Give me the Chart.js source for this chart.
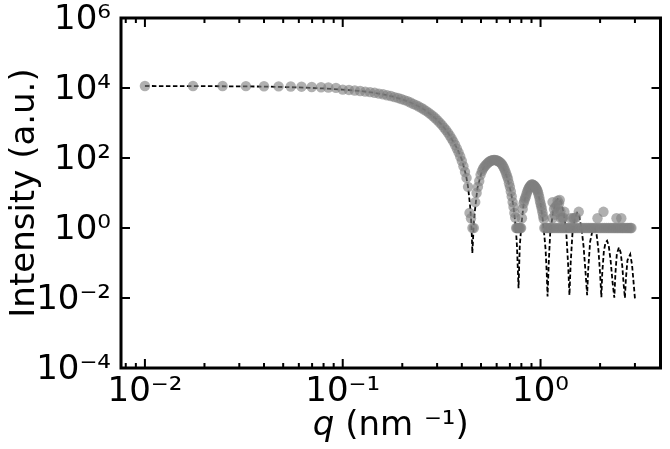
<!DOCTYPE html>
<html>
<head>
<meta charset="utf-8">
<script src="https://cdn.jsdelivr.net/npm/chart.js@4/dist/chart.umd.min.js"></script>
<style>html,body{margin:0;padding:0;background:#fff}canvas{display:block;filter:blur(0.5px)}</style>
</head>
<body>
<canvas id="c" width="670" height="449"></canvas>
<script>
const yTitle = 'Intensity (a.u.)';
const xTitleItalic = 'q';
const xTitleRest = ' (nm \u207B\u00B9)';
const xMajor = [0.01, 0.1, 1];
const xMajorLabels = ['10\u207B\u00B2', '10\u207B\u00B9', '10\u2070'];
const xMinor = [0.008,0.009,0.02,0.03,0.04,0.05,0.06,0.07,0.08,0.09,0.2,0.3,0.4,0.5,0.6,0.7,0.8,0.9,2,3];
const yMajor = [1e-4,1e-2,1,1e2,1e4,1e6];
const yMajorLabels = ['10\u207B\u2074','10\u207B\u00B2','10\u2070','10\u00B2','10\u2074','10\u2076'];

const modelQ = [.01,.02,.04,.06,.08,.1,.12,.14,.16,.18,.2,.22,.24,.26,.28,.3,.32,.34,.36,.38,.4,.42,.43,.44,.445,.45,.452,.456,.46,.47,.48,.5,.52,.54,.56,.586,.61,.63,.65,.67,.69,.71,.73,.75,.76,.774,.785,.8,.82,.85,.88,.908,.94,.97,1,1.03,1.06,1.075,1.085,1.1,1.12,1.16,1.2,1.23,1.27,1.31,1.35,1.38,1.4,1.42,1.45,1.49,1.53,1.57,1.61,1.65,1.69,1.72,1.74,1.78,1.83,1.88,1.92,1.96,2,2.03,2.05,2.09,2.13,2.17,2.21,2.26,2.31,2.36,2.39,2.43,2.49,2.54,2.59,2.63,2.67,2.7,2.75,2.84,2.9,2.95,3];
const modelI = [11400,11300,11000,10400,9700,9000,8300,7500,6600,5650,4750,3850,3050,2350,1730,1230,830,530,310,180,90,32,15,4.5,2,.5,.19,.5,1.6,5,14,34,58,76,84,87,80,67,50,33,19,10,4,1,.3,.019,.3,1.2,4.5,10,16,19,16,10,5,1.5,.25,.05,.011,.1,.8,3,6,7,5.5,2.6,.7,.08,.012,.1,.7,1.9,2.7,2.1,1,.3,.05,.012,.06,.4,.85,.95,.65,.25,.05,.0105,.05,.22,.38,.43,.32,.12,.03,.0102,.05,.18,.28,.2,.08,.025,.01,.035,.12,.177,.09,.03,.0097];

const pointQ = [.01,.0175,.0247,.0324,.04,.0474,.0546,.0619,.0697,.0777,.0846,.0924,.1,.1075,.115,.1225,.13,.1375,.145,.1525,.16,.1675,.175,.1825,.19,.1975,.205,.2125,.22,.2275,.235,.2425,.25,.2575,.265,.2725,.28,.2875,.295,.3025,.31,.3175,.325,.3325,.34,.3475,.355,.3625,.37,.3775,.385,.3925,.4,.4075,.415,.4225,.43,.4375,.445,.4525,.46,.4675,.475,.4825,.49,.4975,.505,.5125,.52,.5275,.535,.5425,.55,.5575,.565,.5725,.58,.5875,.595,.6025,.61,.6175,.625,.6325,.64,.6475,.655,.6625,.67,.6775,.685,.6925,.7,.7075,.715,.7225,.73,.7375,.745,.7525,.76,.7675,.775,.7825,.79,.7975,.805,.8125,.82,.8275,.835,.8425,.85,.8575,.865,.8725,.88,.8875,.895,.9025,.91,.9175,.925,.9325,.94,.9475,.955,.9625,.97,.9775,.985,.9925,1,1.0075,1.015,1.0225,1.03,1.0375,1.045,1.06,1.08,1.1,1.12,1.14,1.17,1.2,1.23,1.26,1.29,1.32,1.35,1.38,1.41,1.44,1.47,1.5,1.54,1.58,1.62,1.66,1.7,1.74,1.78,1.82,1.86,1.9,1.95,2,2.05,2.1,2.15,2.2,2.25,2.3,2.35,2.4,2.45,2.5,2.55,2.6,2.65,2.7,2.75,2.8,2.85,2.88,1.15,1.25,1.15,1.22,1.32,1.29,1.19,1.22,1.48,1.56,1.42,1.94,2.08,2.42,2.56,1.17,1.21,1.26,1.24,1.3,1.18,1.27,1.46,1.51];
const pointI = [11400,11400,11400,11300,11200,11100,11000,10900,10700,10500,10300,10100,9000,8800,8500,8200,7900,7600,7300,6900,6600,6200,5900,5500,5200,4850,4500,4200,3850,3500,3250,2950,2680,2420,2180,1950,1730,1530,1340,1170,1010,870,740,630,530,440,360,295,235,185,145,110,82,58,40,27,15,2.7,1.9,1,1,5.5,10,15,22,33,42,50,56,62,68,73,78,82,85,87,88,88,87,85,82,79,75,70,64,57,50,43,36,30,25,19,15,11,8,5.5,4,2.7,2,1,1,1,1,1,1,1,1.9,3.5,5,6,7,8,9.5,11,12.5,14,15,16,17,17.5,17.5,17,16.5,16,15,14,13,12,10.5,9,7.5,6,5,4.2,3.5,2.8,2.2,1.8,1,1,1,1,1,1,1,1,1,1,1,1,1,1,1,1,1,1,1,1,1,1,1,1,1,1,1,1,1,1,1,1,1,1,1,1,1,1,1,1,1,1,1,1,1,1,1,1,5.5,6.3,1.9,2.9,2.9,1.9,4,6,1.9,2.9,1.9,1.9,2.9,1.9,1.9,3.5,4.5,3,5,2,2.4,1.9,1.9,2];

const model = modelQ.map((q,i)=>({x:q,y:modelI[i]}));
const points = pointQ.map((q,i)=>({x:q,y:pointI[i]}));

const frame = {
  id:'frame',
  afterDatasetsDraw(chart){
    const {ctx,chartArea:a,scales:{x,y}} = chart;
    ctx.save();
    ctx.strokeStyle='#000';
    ctx.lineWidth=2;
    const vt=(v,l)=>{const p=x.getPixelForValue(v);
      ctx.beginPath();ctx.moveTo(p,a.bottom);ctx.lineTo(p,a.bottom-l);
      ctx.moveTo(p,a.top);ctx.lineTo(p,a.top+l);ctx.stroke();};
    xMajor.forEach(v=>vt(v,9));
    xMinor.forEach(v=>vt(v,5));
    yMajor.forEach(v=>{const p=y.getPixelForValue(v);
      ctx.beginPath();ctx.moveTo(a.left,p);ctx.lineTo(a.left+9,p);
      ctx.moveTo(a.right,p);ctx.lineTo(a.right-9,p);ctx.stroke();});
    ctx.lineWidth=3;
    ctx.strokeRect(a.left,a.top,a.right-a.left,a.bottom-a.top);
    ctx.fillStyle='#000';
    ctx.textBaseline='alphabetic';
    ctx.textAlign='left';
    ctx.font='italic 34px "DejaVu Sans"';
    const w1=ctx.measureText(xTitleItalic).width;
    ctx.font='34px "DejaVu Sans"';
    const w2=ctx.measureText(xTitleRest).width;
    const sx=(a.left+a.right)/2-(w1+w2)/2;
    ctx.font='italic 34px "DejaVu Sans"';
    ctx.fillText(xTitleItalic,sx,435);
    ctx.font='34px "DejaVu Sans"';
    ctx.fillText(xTitleRest,sx+w1,435);
    ctx.restore();
  }
};

new Chart(document.getElementById('c'),{
  type:'scatter',
  data:{datasets:[
    {label:'data',data:points,showLine:false,pointRadius:5.2,pointBorderWidth:0,
     backgroundColor:'rgba(128,128,128,0.62)',order:0},
    {label:'model',data:model,showLine:true,pointRadius:0,tension:0,
     borderColor:'#000',borderWidth:1.8,borderDash:[4.5,2.5],order:1}
  ]},
  options:{
    responsive:false,animation:false,devicePixelRatio:1,
    layout:{padding:{top:18,right:9.5,left:0,bottom:0}},
    plugins:{legend:{display:false},tooltip:{enabled:false}},
    scales:{
      x:{type:'logarithmic',min:0.00757,max:4.04,
        grid:{display:false},border:{display:false},
        afterBuildTicks(s){s.ticks=xMajor.map(v=>({value:v,major:true}));},
        afterFit(s){s.height=81;s.paddingLeft=0;s.paddingRight=0;},
        ticks:{autoSkip:false,maxRotation:0,minRotation:0,padding:-4,color:'#000',
          font:{family:'"DejaVu Sans"',size:34},
          callback(v){const i=xMajor.indexOf(v);return i>=0?xMajorLabels[i]:'';}}
      },
      y:{type:'logarithmic',min:1e-4,max:1e6,
        grid:{display:false},border:{display:false},
        afterBuildTicks(s){s.ticks=yMajor.map(v=>({value:v,major:true}));},
        afterFit(s){s.width=121;s.paddingTop=0;s.paddingBottom=0;},
        title:{display:true,text:yTitle,color:'#000',font:{family:'"DejaVu Sans"',size:34},padding:{top:5,bottom:0}},
        ticks:{autoSkip:false,padding:2,labelOffset:2,color:'#000',
          font:{family:'"DejaVu Sans"',size:34},
          callback(v){const i=yMajor.indexOf(v);return i>=0?yMajorLabels[i]:'';}}
      }
    }
  },
  plugins:[frame]
});
</script>
</body>
</html>
